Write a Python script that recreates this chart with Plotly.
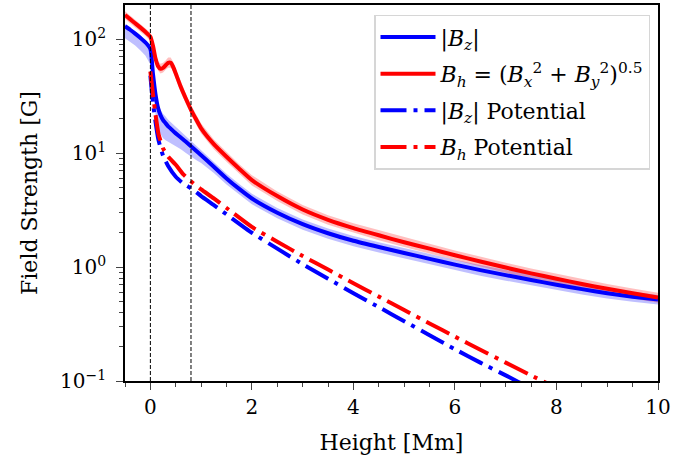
import plotly.graph_objects as go

# ---------------- data ----------------
height = [-0.5, -0.4, -0.3, -0.2, -0.1, 0.0, 0.05, 0.1, 0.15, 0.2, 0.25, 0.3, 0.35, 0.4, 0.45,
          0.5, 0.6, 0.7, 0.8, 0.9, 1.0, 1.25, 1.5, 1.75, 2.0, 2.5, 3.0, 3.5, 4.0, 4.5, 5.0,
          5.5, 6.0, 6.5, 7.0, 7.5, 8.0, 8.5, 9.0, 9.5, 10.0]

bz = [130, 121, 112, 103, 94, 82, 50, 33, 25, 21.5, 19.5, 18.3, 17.2, 16.4, 15.6,
      14.9, 13.7, 12.6, 11.5, 10.5, 9.6, 7.6, 6.0, 4.85, 4.0, 3.0, 2.38, 1.98, 1.70, 1.50, 1.33,
      1.18, 1.05, 0.94, 0.85, 0.77, 0.70, 0.64, 0.59, 0.55, 0.52]
bz_low = [102, 95, 88, 80, 72, 60, 36, 22, 16, 14.5, 13.5, 13, 12.6, 12.3, 12,
          11.6, 10.8, 10, 9.3, 8.7, 8.2, 6.7, 5.3, 4.3, 3.55, 2.68, 2.13, 1.77, 1.52, 1.34, 1.19,
          1.06, 0.94, 0.84, 0.76, 0.69, 0.63, 0.575, 0.53, 0.495, 0.47]
bz_high = [136, 127, 118, 108, 99, 88, 55, 36, 27.5, 24, 22, 21, 19.6, 18.7, 17.8,
           17, 15.5, 14.2, 12.9, 11.7, 10.7, 8.4, 6.6, 5.35, 4.4, 3.3, 2.62, 2.18, 1.87, 1.65, 1.46,
           1.3, 1.16, 1.04, 0.94, 0.85, 0.77, 0.705, 0.65, 0.605, 0.57]

bh = [163, 150, 138, 127, 116, 105, 88, 68, 58, 55, 56, 59, 62, 62, 57,
      50, 38, 30, 24, 19.8, 16.5, 12, 9.3, 7.3, 5.8, 4.2, 3.2, 2.6, 2.2, 1.9, 1.65,
      1.45, 1.27, 1.12, 0.99, 0.88, 0.79, 0.71, 0.645, 0.59, 0.54]
bh_low = [150, 138, 127, 117, 107, 96, 80, 62, 53, 50, 51, 54, 56, 56, 52,
          45, 34, 27, 21.6, 17.8, 14.9, 10.8, 8.4, 6.6, 5.2, 3.8, 2.9, 2.35, 2.0, 1.72, 1.5,
          1.31, 1.15, 1.01, 0.89, 0.79, 0.71, 0.64, 0.58, 0.53, 0.485]
bh_high = [176, 162, 149, 137, 125, 114, 96, 75, 64, 61, 62, 65, 69, 69, 63,
           55, 42, 33, 26.4, 21.8, 18.2, 13.2, 10.2, 8.0, 6.4, 4.6, 3.5, 2.85, 2.42, 2.1, 1.82,
           1.6, 1.4, 1.23, 1.09, 0.97, 0.87, 0.78, 0.71, 0.65, 0.595]

height_pot = [0.0, 0.05, 0.1, 0.16, 0.25, 0.35, 0.5, 0.65, 0.82, 1.0, 1.25, 1.5, 2.0, 2.5,
              3.0, 3.5, 4.0, 4.5, 5.0, 5.5, 6.0, 6.5, 7.0, 7.5, 8.0]
bz_pot = [48, 28, 19, 13, 9.5, 7.7, 6.2, 5.4, 4.85, 4.2, 3.5, 2.9, 2.0, 1.45,
          1.06, 0.79, 0.59, 0.445, 0.335, 0.252, 0.19, 0.145, 0.112, 0.086, 0.066]
bh_pot = [52, 33, 22, 14.7, 11, 9.3, 7.9, 6.5, 5.55, 4.8, 4.0, 3.3, 2.25, 1.67,
          1.25, 0.95, 0.72, 0.55, 0.42, 0.32, 0.245, 0.188, 0.145, 0.112, 0.087]

vlines = [0.0, 0.8]

names = ["|<i>B</i><sub><i>z</i></sub>|",
         "<i>B</i><sub><i>h</i></sub> = (<i>B</i><sub><i>x</i></sub><sup>2</sup> + <i>B</i><sub><i>y</i></sub><sup>2</sup>)<sup>0.5</sup>",
         "|<i>B</i><sub><i>z</i></sub>| Potential",
         "<i>B</i><sub><i>h</i></sub> Potential"]

y_ticks = [0.1, 1, 10, 100]
y_ticktext = ["10<sup>−1</sup>", "10<sup>0</sup>", "10<sup>1</sup>", "10<sup>2</sup>"]
y_minor = [m * d for d in [0.1, 1, 10, 100] for m in range(2, 10) if m * d < 199]

FONT = "DejaVu Serif"
BLUE = "#0000ff"
RED = "#ff0000"

fig = go.Figure()

# bands
fig.add_trace(go.Scatter(x=height, y=bz_high, mode="lines", line=dict(width=0),
                         showlegend=False, hoverinfo="skip"))
fig.add_trace(go.Scatter(x=height, y=bz_low, mode="lines", line=dict(width=0),
                         fill="tonexty", fillcolor="rgba(0,0,255,0.25)",
                         showlegend=False, hoverinfo="skip"))
fig.add_trace(go.Scatter(x=height, y=bh_high, mode="lines", line=dict(width=0),
                         showlegend=False, hoverinfo="skip"))
fig.add_trace(go.Scatter(x=height, y=bh_low, mode="lines", line=dict(width=0),
                         fill="tonexty", fillcolor="rgba(255,0,0,0.25)",
                         showlegend=False, hoverinfo="skip"))

DASHDOT = "26px,7px,4px,7px"
fig.add_trace(go.Scatter(x=height, y=bz, mode="lines", name=names[0], legendgroup="a",
                         line=dict(color=BLUE, width=4, shape="spline", smoothing=0.5)))
fig.add_trace(go.Scatter(x=height, y=bh, mode="lines", name=names[1], legendgroup="b",
                         line=dict(color=RED, width=4, shape="spline", smoothing=0.5)))
fig.add_trace(go.Scatter(x=height_pot, y=bz_pot, mode="lines", name=names[2], legendgroup="c",
                         line=dict(color=BLUE, width=4, dash=DASHDOT, shape="spline", smoothing=0.5)))
fig.add_trace(go.Scatter(x=height_pot, y=bh_pot, mode="lines", name=names[3], legendgroup="d",
                         line=dict(color=RED, width=4, dash=DASHDOT, shape="spline", smoothing=0.5)))

for xv in vlines:
    fig.add_shape(type="line", x0=xv, x1=xv, y0=0, y1=1, xref="x", yref="paper",
                  line=dict(color="black", width=1, dash="4px,2px"))

fig.update_layout(
    width=700, height=464,
    margin=dict(l=125, r=42, t=3, b=83),
    plot_bgcolor="white", paper_bgcolor="white",
    font=dict(family=FONT, size=20, color="black"),
    legend=dict(x=0.985, y=0.974, xanchor="right", yanchor="top",
                bgcolor="rgba(255,255,255,0.85)", bordercolor="#d6d6d6", borderwidth=1.5,
                font=dict(family=FONT, size=22), tracegroupgap=5, itemwidth=55),
    showlegend=True,
)
fig.update_xaxes(range=[-0.5, 10], tick0=0, dtick=2, ticks="outside", ticklen=7, tickwidth=1.3,
                 showline=True, linecolor="black", linewidth=1.6, mirror=True,
                 showgrid=False, zeroline=False,
                 minor=dict(dtick=0.5, tick0=0, ticks="outside", ticklen=4, tickwidth=1, showgrid=False),
                 title=dict(text="Height [Mm]", standoff=17, font=dict(size=22)),
                 tickfont=dict(size=20))
fig.update_yaxes(type="log", range=[-1, 2.3], tickvals=y_ticks, ticktext=y_ticktext,
                 ticks="outside", ticklen=7, tickwidth=1.3, ticklabelstandoff=6,
                 showline=True, linecolor="black", linewidth=1.6, mirror=True,
                 showgrid=False, zeroline=False,
                 minor=dict(tickvals=y_minor, ticks="outside", ticklen=4, tickwidth=1, showgrid=False),
                 title=dict(text="Field Strength [G]", standoff=16, font=dict(size=22)),
                 tickfont=dict(size=20))

fig.write_html("out.html")
